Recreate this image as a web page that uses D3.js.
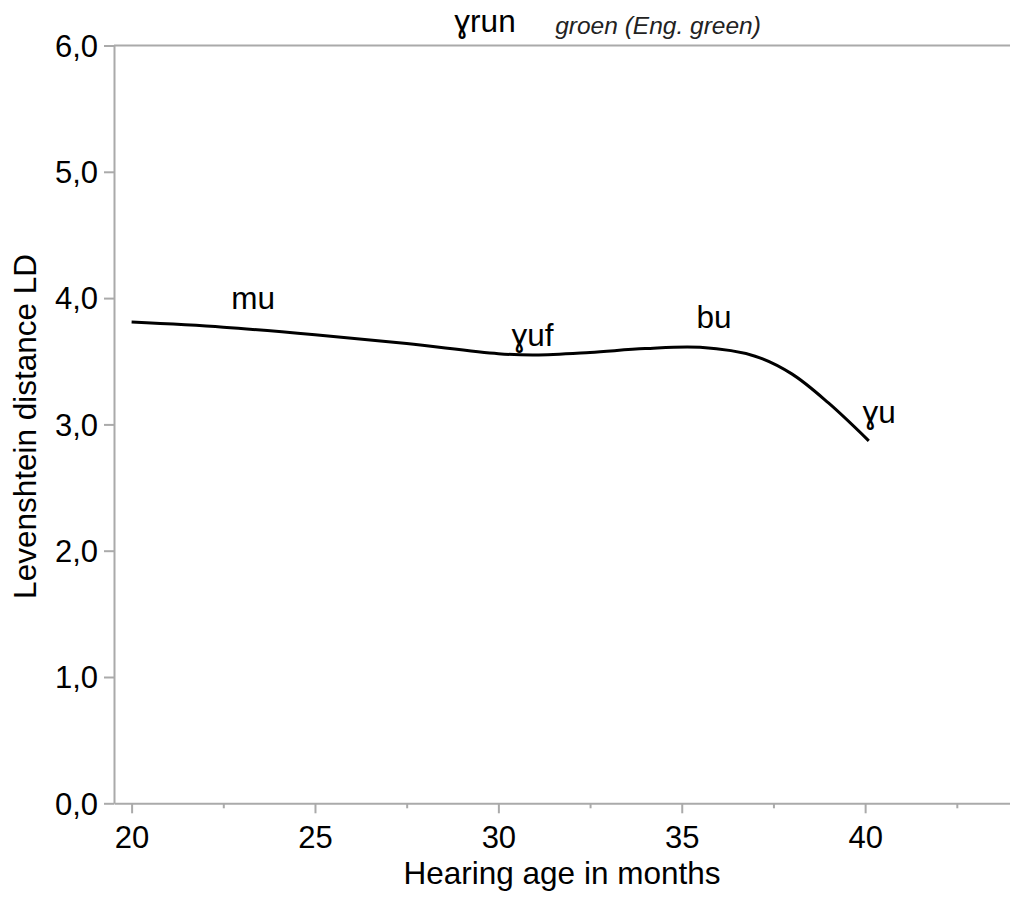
<!DOCTYPE html>
<html>
<head>
<meta charset="utf-8">
<script src="https://d3js.org/d3.v7.min.js"></script>
<style>
  html, body { margin: 0; padding: 0; background: #fff; }
  svg { display: block; font-family: "Liberation Sans", Arial, sans-serif; }
</style>
</head>
<body>
<div id="chart"></div>
<script>
// Data
const ages = [20, 22.5, 25, 27.5, 30, 31, 32.5, 34, 35.5, 37, 38, 39, 40.1];
const ldValues = [3.81, 3.77, 3.71, 3.64, 3.56, 3.55, 3.57, 3.60, 3.61, 3.54, 3.40, 3.17, 2.87];

// Word forms written along the curve
const wordLabels = ["mu", "ɣuf", "bu", "ɣu"];
const wordAges = [22.72, 30.36, 35.4, 39.93];
const wordLD = [3.91, 3.62, 3.76, 3.01];

const xTicks = [20, 25, 30, 35, 40];
const xMinorTicks = [22.5, 27.5, 32.5, 37.5, 42.5];
const yTicks = [0, 1, 2, 3, 4, 5, 6];

const targetWord = "ɣrun";
const targetGloss = "groen (Eng. green)";
const xTitle = "Hearing age in months";
const yTitle = "Levenshtein distance LD";

// Specify the chart's dimensions.
const width = 1010;
const height = 897;
const margin = { top: 45.5, right: 0, bottom: 93.7, left: 114 };
const axisColor = "#aaaaaa";
const fontSize = 31.5;

const x = d3.scaleLinear()
    .domain([19.52, 43.95])
    .range([margin.left, width - margin.right]);

const y = d3.scaleLinear()
    .domain([0, 6])
    .range([height - margin.bottom, margin.top]);

// decimal comma, as in the original
const nl = d3.formatLocale({ decimal: ",", thousands: ".", grouping: [3], currency: ["€", ""] });
const fmt = nl.format(".1f");

const svg = d3.select("#chart").append("svg")
    .attr("width", width)
    .attr("height", height)
    .attr("viewBox", [0, 0, width, height]);

// Top frame line
svg.append("line")
    .attr("x1", margin.left).attr("x2", width)
    .attr("y1", y(6)).attr("y2", y(6))
    .attr("stroke", axisColor).attr("stroke-width", 2);

// X axis (major ticks with labels)
const gx = svg.append("g")
    .attr("transform", `translate(0,${y(0)})`)
    .call(d3.axisBottom(x).tickValues(xTicks).tickSize(10).tickPadding(13).tickSizeOuter(0));

// X axis minor ticks
svg.append("g")
    .attr("transform", `translate(0,${y(0)})`)
    .call(d3.axisBottom(x).tickValues(xMinorTicks).tickSize(5).tickFormat("").tickSizeOuter(0))
    .call(g => g.select(".domain").remove());

// Y axis
const gy = svg.append("g")
    .attr("transform", `translate(${margin.left},0)`)
    .call(d3.axisLeft(y).tickValues(yTicks).tickFormat(fmt).tickSize(10).tickPadding(6).tickSizeOuter(0));

svg.selectAll(".domain").attr("stroke", axisColor).attr("stroke-width", 2);
svg.selectAll(".tick line").attr("stroke", axisColor).attr("stroke-width", 2);
svg.selectAll(".tick text")
    .attr("fill", "#000")
    .attr("font-size", 31)
    .attr("font-family", "Liberation Sans, Arial, sans-serif");
gx.selectAll(".tick text").attr("dy", "0.71em");
gy.selectAll(".tick text").attr("dy", "0.35em");

// Axis titles
svg.append("text")
    .attr("x", (margin.left + width) / 2)
    .attr("y", 884)
    .attr("text-anchor", "middle")
    .attr("font-size", fontSize)
    .text(xTitle);

svg.append("text")
    .attr("transform", `translate(36,${(y(0) + y(6)) / 2 + 2}) rotate(-90)`)
    .attr("text-anchor", "middle")
    .attr("font-size", fontSize)
    .text(yTitle);

// Smoothed curve
const line = d3.line()
    .x((d, i) => x(ages[i]))
    .y(d => y(d))
    .curve(d3.curveCatmullRom.alpha(0.5));

svg.append("path")
    .datum(ldValues)
    .attr("fill", "none")
    .attr("stroke", "#000")
    .attr("stroke-width", 3)
    .attr("d", line);

// Word labels
svg.append("g")
  .selectAll("text")
  .data(wordLabels)
  .join("text")
    .attr("x", (d, i) => x(wordAges[i]))
    .attr("y", (d, i) => y(wordLD[i]))
    .attr("font-size", fontSize)
    .attr("fill", "#000")
    .text(d => d);

// Target word heading
svg.append("text")
    .attr("x", x(28.8))
    .attr("y", 31.5)
    .attr("font-size", fontSize)
    .attr("fill", "#000")
    .text(targetWord);

svg.append("text")
    .attr("x", x(31.55))
    .attr("y", 34)
    .attr("font-size", 24.5)
    .attr("font-style", "italic")
    .attr("fill", "#222")
    .text(targetGloss);
</script>
</body>
</html>
